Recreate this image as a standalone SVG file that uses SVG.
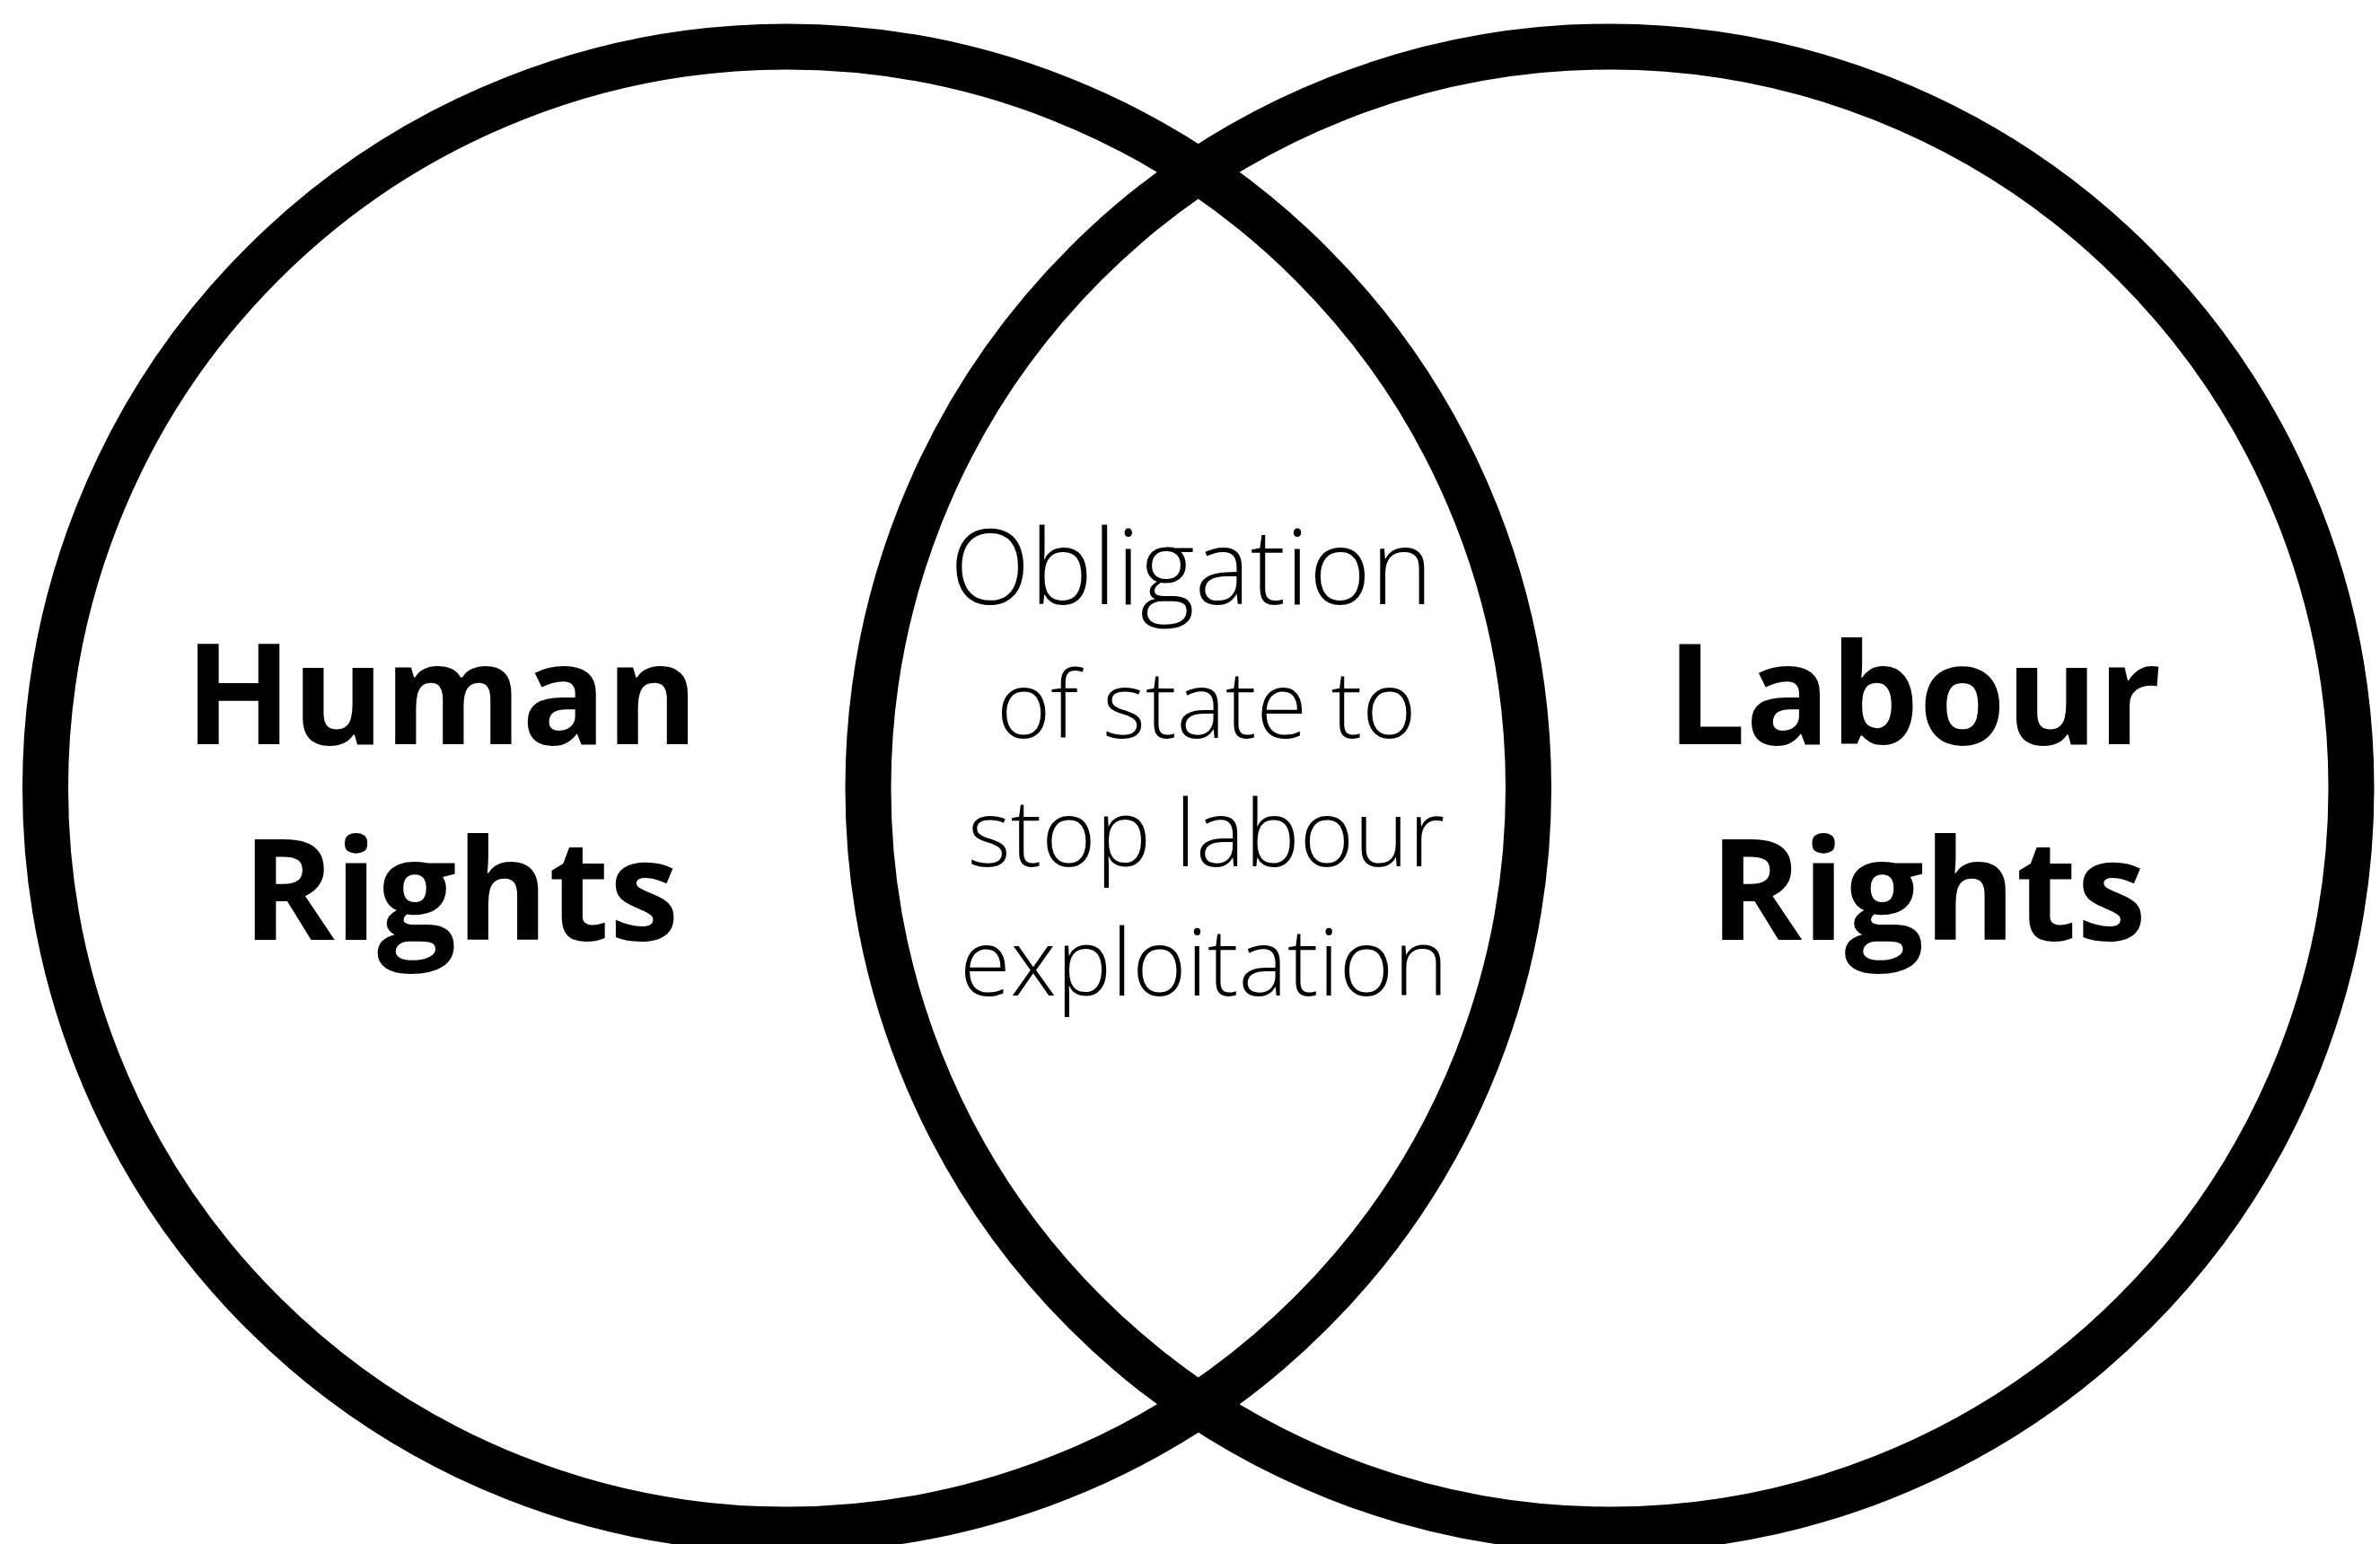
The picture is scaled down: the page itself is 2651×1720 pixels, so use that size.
<svg xmlns="http://www.w3.org/2000/svg" width="2651" height="1720" viewBox="0 0 2651 1720">
<style>
.ring{fill:none;stroke:#000;stroke-width:51}
.big{font-family:"Open Sans","Liberation Sans",sans-serif;font-weight:700;font-size:156px;fill:#000;text-anchor:middle}
.mid{font-family:"Open Sans","Liberation Sans",sans-serif;font-weight:300;font-size:103px;fill:#000;text-anchor:middle}
</style>
<rect width="2651" height="1720" fill="#fff"/>
<g id="connectors"></g>
<g id="human-rights">
<circle class="ring" cx="876.5" cy="878" r="826"/>
<text class="big" x="492" y="829.3">Human</text>
<text class="big" x="513" y="1046.7">Rights</text>
</g>
<g id="labour-rights">
<circle class="ring" cx="1793" cy="878" r="826"/>
<text class="big" x="2132" y="829.3">Labour</text>
<text class="big" x="2147.5" y="1046.7">Rights</text>
</g>
<g id="overlap">
<text class="mid" x="1327" y="673" style="font-size:117px">Obligation</text>
<text class="mid" x="1343.8" y="821.7">of state to</text>
<text class="mid" x="1343.5" y="964.5">stop labour</text>
<text class="mid" x="1341" y="1109.3">exploitation</text>
</g>
</svg>
